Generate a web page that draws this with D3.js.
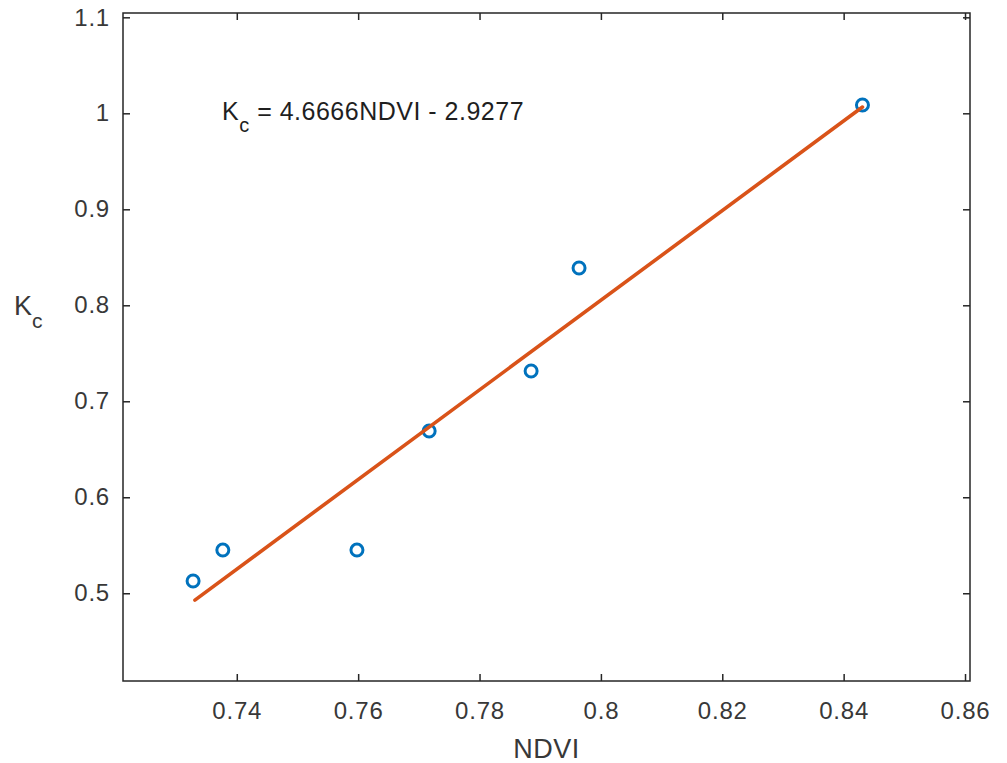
<!DOCTYPE html>
<html>
<head>
<meta charset="utf-8">
<script src="https://cdn.jsdelivr.net/npm/d3@7"></script>
<style>
  html, body { margin: 0; padding: 0; background: #fff; }
  svg { display: block; }
  text { font-family: "Liberation Sans", Arial, Helvetica, sans-serif; }
</style>
</head>
<body>
<svg id="chart" width="1007" height="763"></svg>
<script>
// ---- data ----
const ndvi = [0.7328, 0.7377, 0.7598, 0.7717, 0.7885, 0.7964, 0.8431];
const kc   = [0.5128, 0.5450, 0.5450, 0.6690, 0.7316, 0.8389, 1.0087];
const fitNdvi = [0.7331, 0.8431];
const fitKc   = [0.4929, 1.0065];
const xTicks = [0.74, 0.76, 0.78, 0.80, 0.82, 0.84, 0.86];
const xTickLabels = ["0.74", "0.76", "0.78", "0.8", "0.82", "0.84", "0.86"];
const yTicks = [0.5, 0.6, 0.7, 0.8, 0.9, 1.0, 1.1];
const yTickLabels = ["0.5", "0.6", "0.7", "0.8", "0.9", "1", "1.1"];
const xDomain = [0.72125, 0.86082];
const yDomain = [0.4086, 1.1045];

const svg = d3.select("#chart");
const L = 123, R = 970, T = 13, B = 681;
const axisColor = "#262626";
const textColor = "#383838";

const x = d3.scaleLinear().domain(xDomain).range([L, R]);
const y = d3.scaleLinear().domain(yDomain).range([B, T]);

svg.append("rect").attr("width", 1007).attr("height", 763).attr("fill", "#fff");

function styleAxis(g, showText) {
  g.select(".domain").remove();
  g.selectAll(".tick line").attr("stroke", axisColor).attr("stroke-width", 1.5);
  if (!showText) g.selectAll(".tick text").remove();
  else g.selectAll(".tick text").attr("fill", textColor).attr("font-size", 24)
        .attr("letter-spacing", 0.8)
        .attr("font-family", "Liberation Sans, Arial, sans-serif");
}

// bottom
svg.append("g").attr("transform", `translate(0,${B})`)
  .call(d3.axisBottom(x).tickValues(xTicks).tickFormat((d, i) => xTickLabels[i])
        .tickSizeInner(-7).tickSizeOuter(0).tickPadding(21))
  .call(g => styleAxis(g, true));
// top
svg.append("g").attr("transform", `translate(0,${T})`)
  .call(d3.axisTop(x).tickValues(xTicks).tickSizeInner(-7).tickSizeOuter(0))
  .call(g => styleAxis(g, false));
// left
svg.append("g").attr("transform", `translate(${L},0)`)
  .call(d3.axisLeft(y).tickValues(yTicks).tickFormat((d, i) => yTickLabels[i])
        .tickSizeInner(-7).tickSizeOuter(0).tickPadding(13))
  .call(g => styleAxis(g, true));
// right
svg.append("g").attr("transform", `translate(${R},0)`)
  .call(d3.axisRight(y).tickValues(yTicks).tickSizeInner(-7).tickSizeOuter(0))
  .call(g => styleAxis(g, false));

// box
svg.append("rect").attr("x", L).attr("y", T).attr("width", R - L).attr("height", B - T)
  .attr("fill", "none").attr("stroke", axisColor).attr("stroke-width", 1.5);

// points
svg.append("g").selectAll("circle").data(ndvi).join("circle")
  .attr("cx", d => x(d)).attr("cy", (d, i) => y(kc[i])).attr("r", 6)
  .attr("fill", "none").attr("stroke", "#0072BD").attr("stroke-width", 3);

// fit line
const line = d3.line().x(d => x(d[0])).y(d => y(d[1]));
svg.append("path").datum(fitNdvi.map((d, i) => [d, fitKc[i]]))
  .attr("d", line).attr("fill", "none").attr("stroke", "#D95319")
  .attr("stroke-width", 3.6).attr("stroke-linecap", "round");

// equation
const eq = svg.append("text").attr("x", 222).attr("y", 119.5)
  .attr("font-size", 25).attr("fill", "#1f1f1f").attr("letter-spacing", 0.5);
eq.append("tspan").text("K");
eq.append("tspan").attr("font-size", 20).attr("dy", 12).text("c");
eq.append("tspan").attr("dy", -12).text(" = 4.6666NDVI - 2.9277");

// x label
svg.append("text").attr("x", (L + R) / 2).attr("y", 757.5).attr("text-anchor", "middle")
  .attr("font-size", 27).attr("fill", textColor).attr("letter-spacing", 0.5).text("NDVI");

// y label
const yl = svg.append("text").attr("x", 14).attr("y", 315)
  .attr("font-size", 27).attr("fill", textColor);
yl.append("tspan").text("K");
yl.append("tspan").attr("font-size", 21).attr("dy", 13).text("c");
</script>
</body>
</html>
